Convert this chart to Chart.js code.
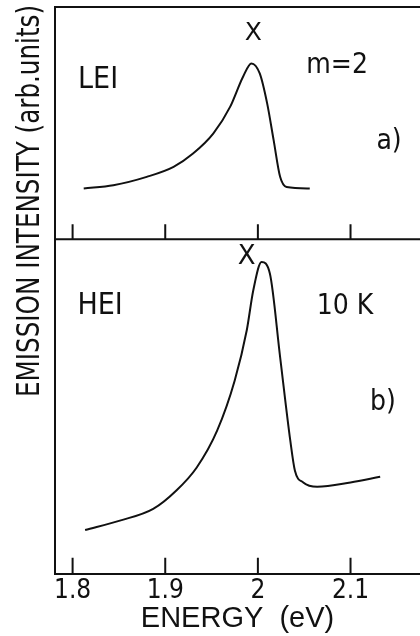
<!DOCTYPE html>
<html>
<head>
<meta charset="utf-8">
<script src="https://cdn.jsdelivr.net/npm/chart.js@4.4.1/dist/chart.umd.min.js"></script>
<style>
  html, body { margin: 0; padding: 0; background: #fff; }
</style>
</head>
<body>
<canvas id="myChart" width="420" height="636"></canvas>
<script>
// panel a) LEI
const energyA = [1.812, 1.844, 1.880, 1.909, 1.930, 1.952, 1.970, 1.984, 1.993, 2.002, 2.010, 2.017, 2.024, 2.031, 2.056];
const intensityA = [21.9, 23.3, 26.9, 31.2, 36.9, 45.6, 57.0, 70.0, 75.7, 71.4, 58.5, 42.7, 26.9, 22.5, 21.9];
// panel b) HEI
const energyB = [1.8135, 1.851, 1.887, 1.912, 1.934, 1.956, 1.975, 1.988, 1.995, 2.004, 2.013, 2.024, 2.035, 2.040, 2.049, 2.064, 2.100, 2.132];
const intensityB = [13.1, 15.9, 19.4, 24.9, 31.8, 42.8, 57.8, 72.8, 84.7, 93.2, 89.7, 64.8, 39.8, 30.8, 27.3, 26.0, 27.3, 29.0];
const xTicks = [1.8, 1.9, 2.0, 2.1];

const narrow = "'Liberation Sans Narrow', 'DejaVu Sans Condensed', sans-serif";
const plain = "'DejaVu Sans', sans-serif";
const ink = "#111";

function toPoints(xs, ys) {
  return xs.map((x, i) => ({ x: x, y: ys[i] }));
}

// text placed in data coordinates of each panel
const notes = [
  { text: "X", x: 1.995, y: 88.8, axis: "yA", font: "25px " + plain },
  { text: "LEI", x: 1.8275, y: 68.5, axis: "yA", font: "30px " + narrow },
  { text: "m=2", x: 2.0855, y: 74.6, axis: "yA", font: "28px " + narrow },
  { text: "a)", x: 2.1416, y: 41.8, axis: "yA", font: "28px " + narrow },
  { text: "X", x: 1.988, y: 94.6, axis: "yB", font: "26px " + plain },
  { text: "HEI", x: 1.8297, y: 79.9, axis: "yB", font: "30px " + narrow },
  { text: "10 K", x: 2.094, y: 79.9, axis: "yB", font: "28px " + narrow },
  { text: "b)", x: 2.135, y: 51.2, axis: "yB", font: "28px " + narrow },
];

const framePlugin = {
  id: "frame",
  afterDraw(chart) {
    const ctx = chart.ctx;
    const x = chart.scales.x;
    const yA = chart.scales.yA;
    const yB = chart.scales.yB;
    const area = chart.chartArea;
    ctx.save();
    ctx.strokeStyle = ink;
    ctx.lineWidth = 2;
    ctx.beginPath();
    ctx.moveTo(area.left, area.top);
    ctx.lineTo(area.right, area.top);
    ctx.moveTo(area.left, yA.bottom);
    ctx.lineTo(area.right, yA.bottom);
    xTicks.forEach((v) => {
      const px = x.getPixelForValue(v);
      ctx.moveTo(px, yA.bottom);
      ctx.lineTo(px, yA.bottom - 15);
      ctx.moveTo(px, yB.bottom);
      ctx.lineTo(px, yB.bottom - 16);
    });
    ctx.stroke();

    ctx.fillStyle = ink;
    ctx.textAlign = "center";
    ctx.textBaseline = "middle";
    notes.forEach((n) => {
      ctx.font = n.font;
      const sy = chart.scales[n.axis];
      ctx.fillText(n.text, x.getPixelForValue(n.x), sy.getPixelForValue(n.y));
    });

    // y title, sits high on the left, squeezed to the length it has in the scan
    const title = "EMISSION INTENSITY (arb.units)";
    ctx.translate(31, 201);
    ctx.rotate(-Math.PI / 2);
    ctx.font = "32px " + narrow;
    const w = ctx.measureText(title).width;
    ctx.scale(392 / w, 1);
    ctx.fillText(title, 0, 0);
    ctx.restore();
  },
};

const ctx = document.getElementById("myChart").getContext("2d");
const myChart = new Chart(ctx, {
  type: "line",
  data: {
    datasets: [
      {
        label: "LEI",
        data: toPoints(energyA, intensityA),
        yAxisID: "yA",
        borderColor: ink,
        borderWidth: 2,
        pointRadius: 0,
        cubicInterpolationMode: "monotone",
      },
      {
        label: "HEI",
        data: toPoints(energyB, intensityB),
        yAxisID: "yB",
        borderColor: ink,
        borderWidth: 2,
        pointRadius: 0,
        cubicInterpolationMode: "monotone",
      },
    ],
  },
  options: {
    responsive: false,
    animation: false,
    layout: {
      padding: { left: 55, top: 7, right: 0, bottom: 0 },
    },
    scales: {
      x: {
        type: "linear",
        min: 1.781,
        max: 2.175,
        grid: { display: false, drawTicks: false },
        border: { display: true, color: ink, width: 2 },
        ticks: {
          stepSize: 0.1,
          includeBounds: false,
          padding: 4,
          color: ink,
          font: { family: narrow, size: 26, lineHeight: 1 },
          callback: (v) => String(Number(v.toFixed(1))),
        },
        title: {
          display: true,
          text: "ENERGY  (eV)",
          color: ink,
          font: { family: "'Liberation Sans', sans-serif", size: 29, lineHeight: 0.8 },
          padding: { top: 0, bottom: 5 },
        },
      },
      // the first axis of a stack goes to the bottom
      yB: {
        type: "linear",
        position: "left",
        stack: "panels",
        stackWeight: 334,
        min: 0,
        max: 100,
        grid: { display: false, drawTicks: false },
        border: { display: true, color: ink, width: 2 },
        ticks: { display: false },
      },
      yA: {
        type: "linear",
        position: "left",
        stack: "panels",
        stackWeight: 232,
        min: 0,
        max: 100,
        grid: { display: false, drawTicks: false },
        border: { display: true, color: ink, width: 2 },
        ticks: { display: false },
      },
    },
    plugins: {
      legend: { display: false },
      tooltip: { enabled: false },
    },
  },
  plugins: [framePlugin],
});
</script>
</body>
</html>
